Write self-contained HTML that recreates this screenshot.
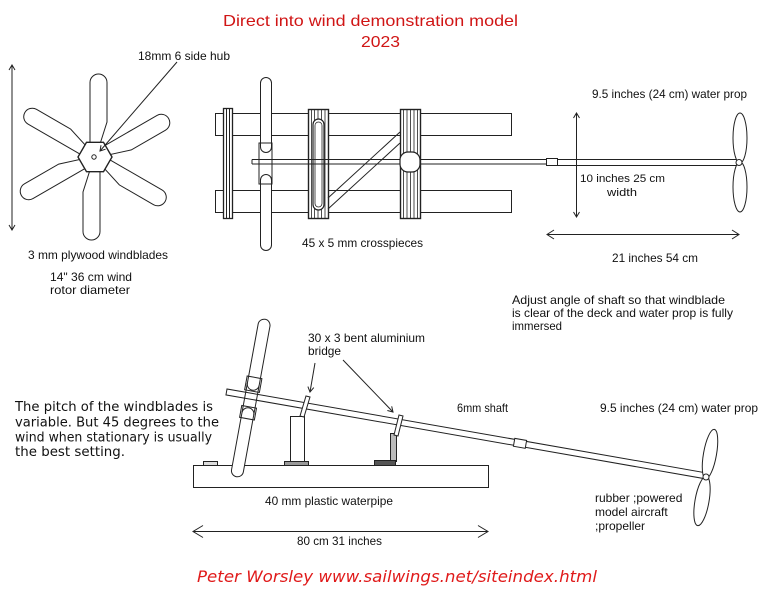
<!DOCTYPE html>
<html><head><meta charset="utf-8"><style>
html,body{margin:0;padding:0;background:#fff;}
svg{display:block;}
text{font-family:"Liberation Sans",Arial,sans-serif;font-size:12px;fill:#111;}
.hw{font-family:"DejaVu Sans","Liberation Sans",sans-serif;font-size:13px;fill:#111;}
</style></head><body>
<svg width="768" height="600" viewBox="0 0 768 600" xmlns="http://www.w3.org/2000/svg">
<defs>
<marker id="mb" viewBox="-12 -8 14 16" refX="0" refY="0" markerWidth="14" markerHeight="16" markerUnits="userSpaceOnUse" orient="auto-start-reverse"><path d="M-10,-6 L0,0 L-10,6" fill="none" stroke="#222" stroke-width="1"/></marker>
<marker id="mm" viewBox="-10 -6 12 12" refX="0" refY="0" markerWidth="12" markerHeight="12" markerUnits="userSpaceOnUse" orient="auto-start-reverse"><path d="M-7,-4.5 L0,0 L-7,4.5" fill="none" stroke="#222" stroke-width="1"/></marker>
<marker id="ms" viewBox="-8 -5 10 10" refX="0" refY="0" markerWidth="10" markerHeight="10" markerUnits="userSpaceOnUse" orient="auto-start-reverse"><path d="M-5,-3 L0,0 L-5,3" fill="none" stroke="#222" stroke-width="1"/></marker>
</defs>
<rect width="768" height="600" fill="#fff"/>

<!-- Title -->
<text x="223" y="26" style="font-size:16px;fill:#d01515" textLength="295" lengthAdjust="spacingAndGlyphs">Direct into wind demonstration model</text>
<text x="361" y="47" style="font-size:16px;fill:#d01515" textLength="39" lengthAdjust="spacingAndGlyphs">2023</text>

<!-- ===== Rotor front view ===== -->
<g stroke="#222" stroke-width="1" fill="#fff">
<line x1="12" y1="65" x2="12" y2="230" marker-start="url(#ms)" marker-end="url(#ms)"/>
<g transform="translate(95,157)">
  <path d="M-5,-13 L-5,-74.5 A8.5,8.5 0 0 1 12,-74.5 L12,-35 L5,-13 Z" transform="rotate(0)"/>
  <path d="M-5,-13 L-5,-74.5 A8.5,8.5 0 0 1 12,-74.5 L12,-35 L5,-13 Z" transform="rotate(60)"/>
  <path d="M-5,-13 L-5,-74.5 A8.5,8.5 0 0 1 12,-74.5 L12,-35 L5,-13 Z" transform="rotate(120)"/>
  <path d="M-5,-13 L-5,-74.5 A8.5,8.5 0 0 1 12,-74.5 L12,-35 L5,-13 Z" transform="rotate(180)"/>
  <path d="M-5,-13 L-5,-74.5 A8.5,8.5 0 0 1 12,-74.5 L12,-35 L5,-13 Z" transform="rotate(240)"/>
  <path d="M-5,-13 L-5,-74.5 A8.5,8.5 0 0 1 12,-74.5 L12,-35 L5,-13 Z" transform="rotate(300)"/>
  <polygon points="17,0 8.5,-14.7 -8.5,-14.7 -17,0 -8.5,14.7 8.5,14.7" stroke-width="1.4"/>
  <circle cx="-1" cy="0" r="2.2"/>
</g>
<line x1="177" y1="62" x2="100" y2="151" marker-end="url(#ms)"/>
</g>
<text x="138" y="60" textLength="92" lengthAdjust="spacingAndGlyphs">18mm 6 side hub</text>
<text x="28" y="259" textLength="140" lengthAdjust="spacingAndGlyphs">3 mm plywood windblades</text>
<text x="50" y="281" textLength="82" lengthAdjust="spacingAndGlyphs">14" 36 cm wind</text>
<text x="50" y="294" textLength="80" lengthAdjust="spacingAndGlyphs">rotor diameter</text>

<!-- ===== Top view ===== -->
<g stroke="#222" stroke-width="1" fill="#fff">
<rect x="215.5" y="113.5" width="296" height="22"/>
<rect x="215.5" y="190.5" width="296" height="22"/>
<!-- crosspiece 1 -->
<rect x="223.5" y="108.5" width="9" height="110" stroke-width="1.3"/>
<line x1="226.5" y1="109" x2="226.5" y2="218"/>
<line x1="229.5" y1="109" x2="229.5" y2="218"/>
<!-- rotor blade side -->
<rect x="259" y="143" width="13" height="41" stroke="none"/>
<rect x="260.5" y="77.5" width="11" height="75" rx="5.5"/>
<rect x="260.5" y="174.5" width="11" height="76" rx="5.5"/>
<rect x="259" y="143" width="13" height="41" fill="none"/>
<!-- crosspiece 2 -->
<rect x="308.5" y="109.5" width="20" height="109" stroke-width="1.4"/>
<g stroke-width="0.8">
<line x1="311.5" y1="110" x2="311.5" y2="218"/><line x1="314.5" y1="110" x2="314.5" y2="218"/>
<line x1="318" y1="110" x2="318" y2="218"/><line x1="321.5" y1="110" x2="321.5" y2="218"/>
<line x1="325" y1="110" x2="325" y2="218"/></g>
<rect x="313" y="119" width="11" height="91" rx="5.5" stroke-width="1.2"/>
<rect x="315" y="122" width="7" height="85" rx="3.5" fill="none" stroke-width="0.8"/>
<!-- brace -->
<line x1="328" y1="198" x2="400" y2="132"/>
<line x1="328" y1="209" x2="400" y2="143"/>
<!-- crosspiece 3 -->
<rect x="400.5" y="109.5" width="20" height="109" stroke-width="1.4"/>
<g stroke-width="0.8">
<line x1="403.5" y1="110" x2="403.5" y2="218"/><line x1="407" y1="110" x2="407" y2="218"/>
<line x1="410.5" y1="110" x2="410.5" y2="218"/><line x1="414" y1="110" x2="414" y2="218"/>
<line x1="417.5" y1="110" x2="417.5" y2="218"/></g>
<!-- shaft -->
<line x1="252" y1="159.5" x2="546" y2="159.5"/>
<line x1="252" y1="164" x2="546" y2="164"/>
<line x1="252" y1="159.5" x2="252" y2="164"/>
<rect x="400" y="152" width="20" height="20" rx="8" stroke-width="1.2"/>
<rect x="546.5" y="158.5" width="11" height="7"/>
<line x1="557" y1="159.5" x2="737" y2="159.5"/>
<line x1="557" y1="165.5" x2="737" y2="165.5"/>
<!-- prop -->
<ellipse cx="740" cy="138" rx="7" ry="25"/>
<ellipse cx="740" cy="187" rx="7" ry="25"/>
<circle cx="739" cy="162.5" r="3"/>
<!-- dims -->
<line x1="576.5" y1="113" x2="576.5" y2="217" marker-start="url(#ms)" marker-end="url(#ms)"/>
<line x1="547" y1="234.5" x2="739" y2="234.5" marker-start="url(#mm)" marker-end="url(#mm)"/>
</g>
<text x="302" y="247" textLength="121" lengthAdjust="spacingAndGlyphs">45 x 5 mm crosspieces</text>
<text x="592" y="98" textLength="155" lengthAdjust="spacingAndGlyphs">9.5 inches (24 cm) water prop</text>
<text x="580" y="182" style="font-size:11px" textLength="85" lengthAdjust="spacingAndGlyphs">10 inches 25 cm</text>
<text x="607" y="196" style="font-size:11px" textLength="30" lengthAdjust="spacingAndGlyphs">width</text>
<text x="612" y="262" textLength="86" lengthAdjust="spacingAndGlyphs">21 inches 54 cm</text>

<text x="512" y="304" textLength="213" lengthAdjust="spacingAndGlyphs">Adjust angle of shaft so that windblade</text>
<text x="512" y="317" textLength="221" lengthAdjust="spacingAndGlyphs">is clear of the deck and water prop is fully</text>
<text x="512" y="330" textLength="50" lengthAdjust="spacingAndGlyphs">immersed</text>

<!-- ===== Side view ===== -->
<g stroke="#222" stroke-width="1" fill="#fff">
<rect x="193.5" y="465.5" width="295" height="22"/>
<rect x="203.5" y="461.5" width="14" height="4" fill="#ddd"/>
<!-- post 1 -->
<rect x="290.5" y="416.5" width="14" height="45"/>
<rect x="284.5" y="461.5" width="24" height="4" fill="#999"/>
<!-- post 2 -->
<rect x="390.5" y="433.5" width="6" height="28" fill="#bbb"/>
<rect x="374.5" y="460.5" width="21" height="5" fill="#555"/>
<!-- tilted blade -->
<g transform="translate(250.75,398) rotate(10.35)">
  <rect x="-6" y="-80" width="12" height="72" rx="6"/>
  <rect x="-6" y="10" width="12" height="70" rx="6"/>
  <line x1="-6" y1="-14" x2="-6" y2="16"/>
  <line x1="6" y1="-14" x2="6" y2="16"/>
  <rect x="-7.5" y="-21" width="15" height="14" fill="none"/>
  <rect x="-7.5" y="9" width="15" height="12" fill="none"/>
</g>
<!-- shaft -->
<g transform="translate(227,389) rotate(9.93)">
  <rect x="0" y="0" width="487" height="6" fill="none"/>
  <rect x="292" y="-1" width="12" height="8"/>
</g>
<!-- brackets -->
<polygon points="306,396 310,397 304,417 300,416"/>
<polygon points="399,415 403,416 398,436 394,435"/>
<!-- prop -->
<ellipse cx="710" cy="454" rx="6.5" ry="25" transform="rotate(10 710 454)"/>
<ellipse cx="702" cy="501" rx="7" ry="25" transform="rotate(10 702 501)"/>
<circle cx="706" cy="477" r="3"/>
<!-- pointer arrows -->
<line x1="315" y1="363" x2="310" y2="392" marker-end="url(#ms)"/>
<line x1="343" y1="360" x2="393" y2="412" marker-end="url(#ms)"/>
<!-- dim -->
<line x1="193" y1="531.5" x2="488" y2="531.5" marker-start="url(#mb)" marker-end="url(#mb)"/>
</g>
<text x="308" y="342" textLength="117" lengthAdjust="spacingAndGlyphs">30 x 3 bent aluminium</text>
<text x="308" y="355" textLength="33" lengthAdjust="spacingAndGlyphs">bridge</text>
<text x="457" y="412" textLength="51" lengthAdjust="spacingAndGlyphs">6mm shaft</text>
<text x="600" y="412" textLength="158" lengthAdjust="spacingAndGlyphs">9.5 inches (24 cm) water prop</text>
<text x="595" y="502">rubber ;powered</text>
<text x="595" y="516">model aircraft</text>
<text x="595" y="530">;propeller</text>
<text x="265" y="505" textLength="128" lengthAdjust="spacingAndGlyphs">40 mm plastic waterpipe</text>
<text x="297" y="545" textLength="85" lengthAdjust="spacingAndGlyphs">80 cm 31 inches</text>

<text class="hw" x="15" y="411" textLength="198" lengthAdjust="spacingAndGlyphs">The pitch of the windblades is</text>
<text class="hw" x="15" y="426.5" textLength="204" lengthAdjust="spacingAndGlyphs">variable. But 45 degrees to the</text>
<text class="hw" x="15" y="441.5" textLength="197" lengthAdjust="spacingAndGlyphs">wind when stationary is usually</text>
<text class="hw" x="15" y="456" textLength="110" lengthAdjust="spacingAndGlyphs">the best setting.</text>

<text x="197" y="582" style="font-family:'DejaVu Sans','Liberation Sans',sans-serif;font-style:oblique;font-size:16px;fill:#e01a1a" textLength="400" lengthAdjust="spacingAndGlyphs">Peter Worsley www.sailwings.net/siteindex.html</text>
</svg>
</body></html>
